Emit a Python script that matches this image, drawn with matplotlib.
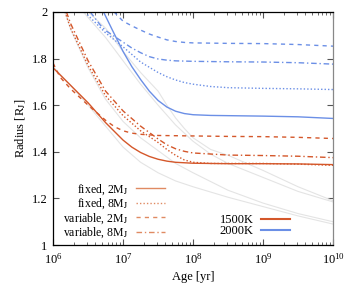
import numpy as np
import matplotlib
matplotlib.use("Agg")
import matplotlib.pyplot as plt
from matplotlib.lines import Line2D
from matplotlib.ticker import LogLocator, NullFormatter

plt.rcParams['font.family'] = 'Liberation Serif'
plt.rcParams['mathtext.fontset'] = 'stix'
plt.rcParams['font.size'] = 9

orange = '#d4572a'
blue = '#6b8fe6'
grey = '#e4e4e4'

# log10(age [yr]) and radius [RJ]
# 1500K
o_fix2_lt = [6.0, 6.25, 6.5, 6.75, 7.0, 7.125, 7.25, 7.375, 7.5, 7.625, 7.75, 8.0, 8.5, 9.0, 9.5, 10.0]
o_fix2_r = [1.76, 1.685, 1.61, 1.525, 1.45, 1.42, 1.397, 1.38, 1.368, 1.36, 1.355, 1.351, 1.349, 1.349, 1.348, 1.345]
o_fix8_lt = [6.17, 6.25, 6.5, 6.75, 7.0, 7.25, 7.5, 7.625, 7.75, 7.875, 8.0, 8.25, 8.5, 9.0, 9.5, 10.0]
o_fix8_r = [2.0, 1.93, 1.77, 1.64, 1.555, 1.49, 1.44, 1.41, 1.385, 1.365, 1.355, 1.35, 1.35, 1.35, 1.347, 1.342]
o_var2_lt = [6.0, 6.1, 6.25, 6.5, 6.75, 6.875, 7.0, 7.125, 7.25, 7.5, 8.0, 8.5, 9.0, 9.5, 10.0]
o_var2_r = [1.78, 1.72, 1.67, 1.60, 1.535, 1.508, 1.49, 1.48, 1.475, 1.47, 1.468, 1.466, 1.465, 1.462, 1.457]
o_var8_lt = [6.19, 6.25, 6.5, 6.75, 7.0, 7.25, 7.5, 7.625, 7.75, 7.875, 8.0, 8.5, 9.0, 9.5, 10.0]
o_var8_r = [2.0, 1.95, 1.79, 1.66, 1.575, 1.51, 1.455, 1.43, 1.413, 1.402, 1.395, 1.386, 1.384, 1.381, 1.375]

# 2000K
b_fix2_lt = [6.72, 6.85, 7.0, 7.125, 7.25, 7.375, 7.5, 7.625, 7.75, 7.875, 8.0, 8.25, 8.5, 9.0, 9.5, 10.0]
b_fix2_r = [2.0, 1.92, 1.83, 1.765, 1.71, 1.66, 1.62, 1.592, 1.574, 1.564, 1.559, 1.556, 1.555, 1.553, 1.55, 1.543]
b_fix8_lt = [6.46, 6.5, 6.75, 7.0, 7.25, 7.5, 7.625, 7.75, 7.875, 8.0, 8.25, 8.5, 9.0, 9.5, 10.0]
b_fix8_r = [2.0, 1.985, 1.91, 1.85, 1.785, 1.74, 1.722, 1.708, 1.697, 1.69, 1.68, 1.675, 1.672, 1.67, 1.667]
b_var2_lt = [6.87, 7.0, 7.125, 7.25, 7.375, 7.5, 7.625, 7.75, 7.875, 8.0, 8.5, 9.0, 9.5, 10.0]
b_var2_r = [2.0, 1.96, 1.94, 1.922, 1.905, 1.892, 1.88, 1.873, 1.869, 1.867, 1.865, 1.864, 1.86, 1.853]
b_var8_lt = [6.53, 6.67, 6.75, 7.0, 7.125, 7.25, 7.375, 7.5, 7.625, 7.75, 8.0, 8.5, 9.0, 9.5, 10.0]
b_var8_r = [2.0, 1.945, 1.92, 1.87, 1.845, 1.825, 1.808, 1.798, 1.793, 1.79, 1.788, 1.786, 1.785, 1.782, 1.776]

# grey reference tracks
g1_lt = [6.0, 6.25, 6.5, 6.75, 7.0, 7.25, 7.5, 7.75, 8.0, 8.5, 9.0, 9.5, 10.0]
g1_r = [1.765, 1.685, 1.60, 1.51, 1.42, 1.355, 1.31, 1.275, 1.25, 1.205, 1.165, 1.125, 1.09]
g2_lt = [6.17, 6.25, 6.5, 6.75, 7.0, 7.25, 7.5, 7.75, 8.0, 8.5, 9.0, 9.5, 10.0]
g2_r = [2.0, 1.925, 1.76, 1.625, 1.53, 1.46, 1.405, 1.35, 1.31, 1.235, 1.18, 1.135, 1.10]
g3_lt = [6.5, 6.75, 7.0, 7.25, 7.5, 7.625, 7.75, 7.875, 8.0, 8.25, 8.5, 9.0, 9.5, 10.0]
g3_r = [2.0, 1.93, 1.83, 1.74, 1.66, 1.60, 1.545, 1.50, 1.46, 1.41, 1.385, 1.32, 1.25, 1.19]
g4_lt = [6.43, 6.75, 7.0, 7.25, 7.5, 7.75, 8.0, 8.25, 8.5, 9.0, 9.5, 10.0]
g4_r = [2.0, 1.89, 1.79, 1.69, 1.60, 1.515, 1.445, 1.39, 1.35, 1.29, 1.23, 1.185]

fig = plt.figure(figsize=(3.54, 2.83), dpi=100)
ax = fig.add_axes([0.150, 0.134, 0.791, 0.824])

for lt, r in [(g1_lt, g1_r), (g2_lt, g2_r), (g3_lt, g3_r), (g4_lt, g4_r)]:
    ax.plot(10 ** np.array(lt), r, color=grey, lw=0.8)

dot = (0, (1, 1.5))
dash = (0, (3, 3))
dashdot = (0, (4, 2, 1, 2))

tracks = [
    (o_fix2_lt, o_fix2_r, orange, '-'),
    (o_fix8_lt, o_fix8_r, orange, dot),
    (o_var2_lt, o_var2_r, orange, dash),
    (o_var8_lt, o_var8_r, orange, dashdot),
    (b_fix2_lt, b_fix2_r, blue, '-'),
    (b_fix8_lt, b_fix8_r, blue, dot),
    (b_var2_lt, b_var2_r, blue, dash),
    (b_var8_lt, b_var8_r, blue, dashdot),
]
for lt, r, c, ls in tracks:
    ax.plot(10 ** np.array(lt), r, color=c, lw=1, ls=ls)

ax.set_xscale('log')
ax.set_xlim(1e6, 1e10)
ax.set_ylim(1, 2)
ax.set_yticks([1, 1.2, 1.4, 1.6, 1.8, 2])
ax.set_yticklabels(['1', '1.2', '1.4', '1.6', '1.8', '2'])
ax.xaxis.set_minor_locator(LogLocator(base=10, subs=np.arange(2, 10), numticks=20))
ax.xaxis.set_minor_formatter(NullFormatter())
ax.tick_params(which='both', direction='in', top=True, right=True, color='#555555')
ax.tick_params(which='major', length=4, width=0.8)
ax.tick_params(which='minor', length=2, width=0.6)
ax.tick_params(axis='x', pad=5)
ax.tick_params(axis='y', pad=4)
for s in ax.spines.values():
    s.set_linewidth(0.9)
ax.spines['right'].set_color('#888888')

ax.set_xlabel('Age [yr]', labelpad=3)
ax.set_ylabel(r'Radius [R$_\mathrm{J}$]', labelpad=3)

lc = '#e08a62'
style_handles = [
    Line2D([], [], color=lc, lw=1, ls='-'),
    Line2D([], [], color=lc, lw=1, ls=dot),
    Line2D([], [], color=lc, lw=1, ls=dash),
    Line2D([], [], color=lc, lw=1, ls=dashdot),
]
style_labels = [r'fixed, 2M$_\mathrm{J}$', r'fixed, 8M$_\mathrm{J}$',
                r'variable, 2M$_\mathrm{J}$', r'variable, 8M$_\mathrm{J}$']
leg1 = ax.legend(style_handles, style_labels, loc='lower right',
                 bbox_to_anchor=(0.40, 0.02), frameon=False, markerfirst=False,
                 handlelength=2.5, handletextpad=0.6, labelspacing=0.0,
                 borderaxespad=0.0, borderpad=0.0, fontsize=8.5)
leg1._legend_box.align = 'right'
ax.add_artist(leg1)

temp_handles = [Line2D([], [], color=orange, lw=1.5), Line2D([], [], color=blue, lw=1.5)]
ax.legend(temp_handles, ['1500K', '2000K'], loc='lower right',
          bbox_to_anchor=(0.846, 0.035), frameon=False, markerfirst=False,
          handlelength=2.3, handletextpad=0.6, labelspacing=-0.1,
          borderaxespad=0.0, borderpad=0.0)

fig.savefig('out.png', dpi=100)
